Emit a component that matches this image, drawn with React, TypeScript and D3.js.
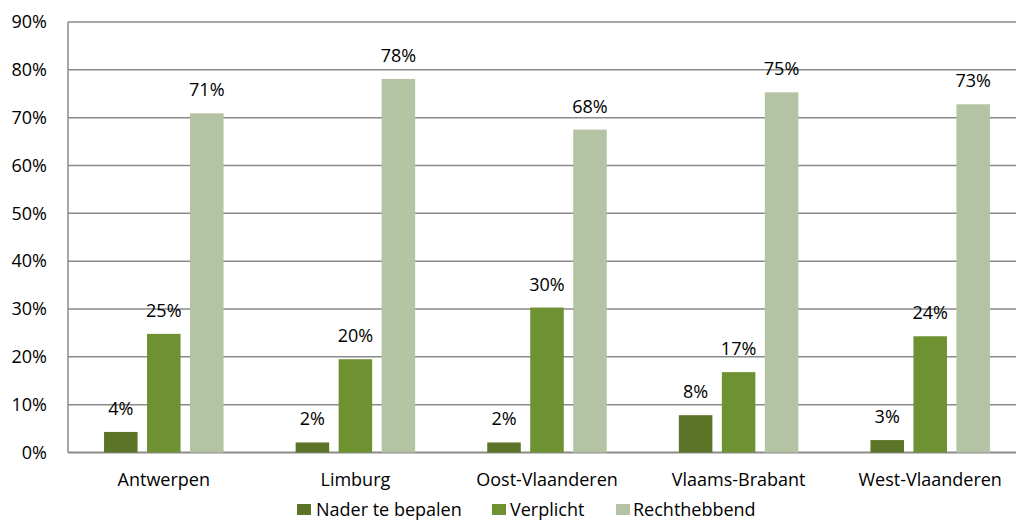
import React from "react";
import * as d3 from "d3";

const categories = ["Antwerpen", "Limburg", "Oost-Vlaanderen", "Vlaams-Brabant", "West-Vlaanderen"];
const seriesNames = ["Nader te bepalen", "Verplicht", "Rechthebbend"];
const naderTeBepalen = [4.3, 2.1, 2.1, 7.8, 2.6];
const verplicht = [24.8, 19.5, 30.3, 16.8, 24.3];
const rechthebbend = [70.9, 78.1, 67.5, 75.3, 72.8];
const yTicks = [0, 10, 20, 30, 40, 50, 60, 70, 80, 90];
const colors = ["#5b7427", "#6e9131", "#b4c3a3"];

const W = 1016;
const H = 524;
const FONT = "'Open Sans', sans-serif";
const FS = 18;

export default function App() {
  const series = [naderTeBepalen, verplicht, rechthebbend];
  const left = 68;
  const right = 1026;
  const y = d3.scaleLinear().domain([0, 90]).range([452.5, 22]);
  const x0 = d3.scaleBand<string>().domain(categories).range([left, right]).paddingInner(0).paddingOuter(0);
  const groupW = 119.5;
  const x1 = d3.scaleBand<string>().domain(seriesNames).range([0, groupW]).paddingInner(0.22);
  const legendPos = [
    { sx: 297, tx: 316 },
    { sx: 492, tx: 510 },
    { sx: 616, tx: 633 },
  ];
  return (
    <svg width={W} height={H} style={{ position: "absolute", left: 0, top: 0, background: "#fff" }} fontFamily={FONT}>
      {yTicks.map((t) => (
        <g key={t}>
          <line x1={left} x2={W} y1={y(t)} y2={y(t)} stroke="#8a8a8a" strokeWidth={t === 0 ? 2 : 1.5} />
          <text x={47} y={y(t)} dy="0.35em" textAnchor="end" fontSize={FS} fill="#000">
            {t}%
          </text>
        </g>
      ))}
      <line x1={left} x2={left} y1={y(90)} y2={y(0)} stroke="#8a8a8a" strokeWidth={1.5} />
      {categories.map((c, ci) => {
        const gx = (x0(c) as number) + x0.bandwidth() / 2 - groupW / 2;
        return (
          <g key={c}>
            {seriesNames.map((s, si) => {
              const v = series[si][ci];
              const bx = gx + (x1(s) as number);
              const bw = x1.bandwidth();
              return (
                <g key={s}>
                  <rect x={bx} y={y(v)} width={bw} height={y(0) - y(v)} fill={colors[si]} />
                  <text x={bx + bw / 2} y={y(v) - 17} textAnchor="middle" fontSize={FS} fill="#000">
                    {Math.round(v)}%
                  </text>
                </g>
              );
            })}
            <text x={(x0(c) as number) + x0.bandwidth() / 2} y={486} textAnchor="middle" fontSize={FS} fill="#000">
              {c}
            </text>
          </g>
        );
      })}
      {seriesNames.map((s, si) => (
        <g key={s}>
          <rect x={legendPos[si].sx} y={504} width={14} height={11} fill={colors[si]} />
          <text x={legendPos[si].tx} y={515.5} fontSize={FS} fill="#000">
            {s}
          </text>
        </g>
      ))}
    </svg>
  );
}
